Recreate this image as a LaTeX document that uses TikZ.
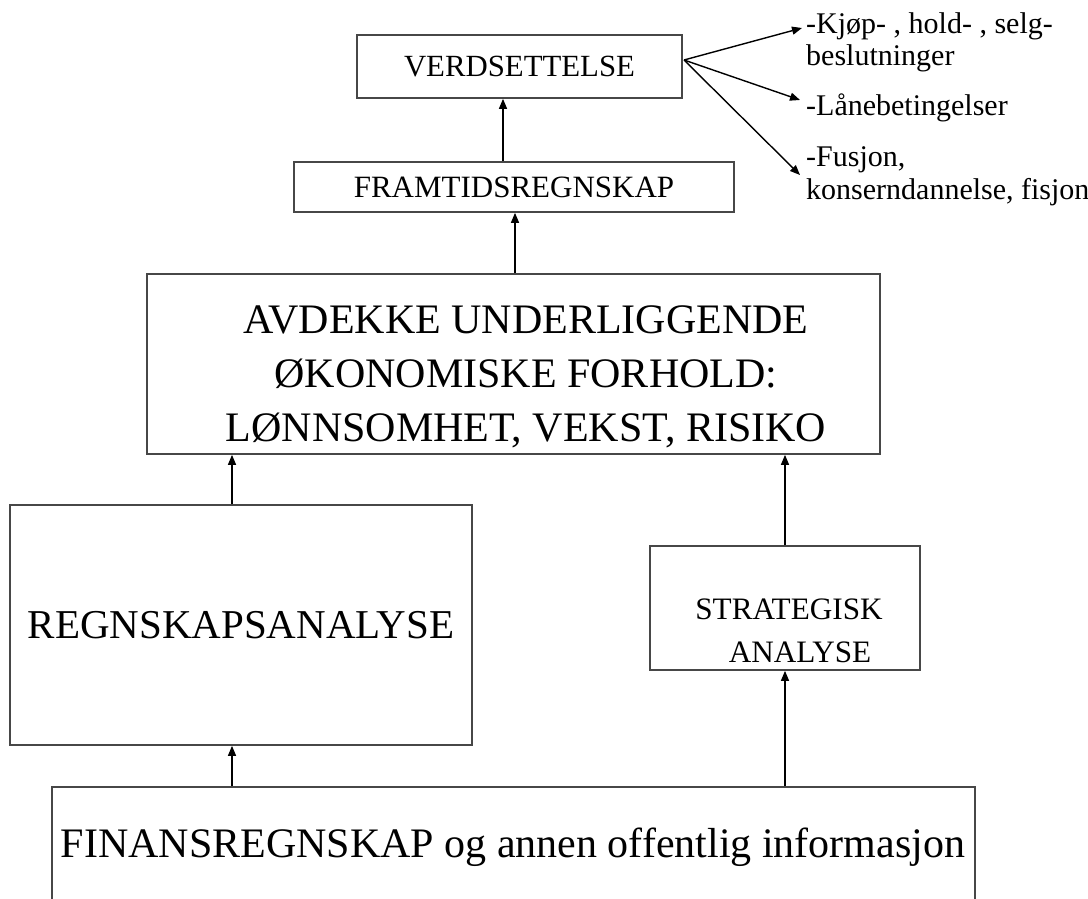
\documentclass[tikz,border=0pt]{standalone}
\usepackage{fontspec}
\setmainfont{Liberation Serif}
\usetikzlibrary{arrows.meta}

\tikzset{
  box/.style={draw=black!72, line width=1.7pt, rectangle, inner sep=0pt},
  txt/.style={inner sep=0pt, text=black},
  conn/.style={draw=black, line width=1.4pt, -{Triangle[length=10pt,width=8pt]}},
}

\begin{document}
\begin{tikzpicture}[x=1pt,y=-1pt]
\useasboundingbox[fill=white] (0,0) rectangle (1088,899);

% upper chain
\node[box, minimum width=325pt, minimum height=63pt,
      font=\fontsize{30.8pt}{35pt}\selectfont] (verd) at (519.5,66.5) {VERDSETTELSE};
\node[box, minimum width=440pt, minimum height=50pt,
      font=\fontsize{31pt}{35pt}\selectfont] (framt) at (514,187) {FRAMTIDSREGNSKAP};

% central box
\node[box, minimum width=733pt, minimum height=180pt] (avd) at (513.5,364) {};
\node[txt, align=center, font=\fontsize{42pt}{54pt}\selectfont] (avdtxt) at (526,377)
  {AVDEKKE UNDERLIGGENDE\\ØKONOMISKE FORHOLD:\\LØNNSOMHET, VEKST, RISIKO};

% analysis boxes
\node[box, minimum width=462pt, minimum height=240pt,
      font=\fontsize{41pt}{47pt}\selectfont] (regn) at (241,625) {REGNSKAPSANALYSE};
\node[box, minimum width=270pt, minimum height=124pt] (strat) at (785,608) {};
\node[txt, align=center, font=\fontsize{31.2pt}{43pt}\selectfont] (strattxt) at (789,631)
  {STRATEGISK\\\hspace*{22pt}ANALYSE};

% source box (runs off the lower edge)
\node[box, minimum width=923pt, minimum height=143pt] (fin) at (513.5,858.5) {};
\node[txt, font=\fontsize{42pt}{48pt}\selectfont] (fintxt) at (513,847)
  {FINANSREGNSKAP og annen offentlig informasjon};

% vertical connectors
\draw[conn] (503,0 |- framt.north) -- (503,0 |- verd.south);
\draw[conn] (515,0 |- avd.north) -- (515,0 |- framt.south);
\draw[conn] (232,0 |- regn.north) -- (232,0 |- avd.south);
\draw[conn] (strat.north) -- (strat.north |- avd.south);
\draw[conn] (232,0 |- fin.north) -- (232,0 |- regn.south);
\draw[conn] (strat.south |- fin.north) -- (strat.south);

% decisions on the right
\node[txt, anchor=north west, align=left, font=\fontsize{30pt}{32pt}\selectfont] (kjop)
  at (806,12.5) {-Kjøp- , hold- , selg-\\beslutninger};
\node[txt, anchor=base west, font=\fontsize{30pt}{32pt}\selectfont] (lane)
  at (806,115) {-Lånebetingelser};
\node[txt, anchor=north west, align=left, font=\fontsize{30pt}{33pt}\selectfont] (fus)
  at (806,146.5) {-Fusjon,\\konserndannelse, fisjon};

\coordinate (fan) at (684,60);
\coordinate (kjopend) at (802,28);
\coordinate (laneend) at (800,100);
\coordinate (fusend) at (800,175);
\draw[conn] (fan) -- (kjopend);
\draw[conn] (fan) -- (laneend);
\draw[conn] (fan) -- (fusend);
\end{tikzpicture}
\end{document}
